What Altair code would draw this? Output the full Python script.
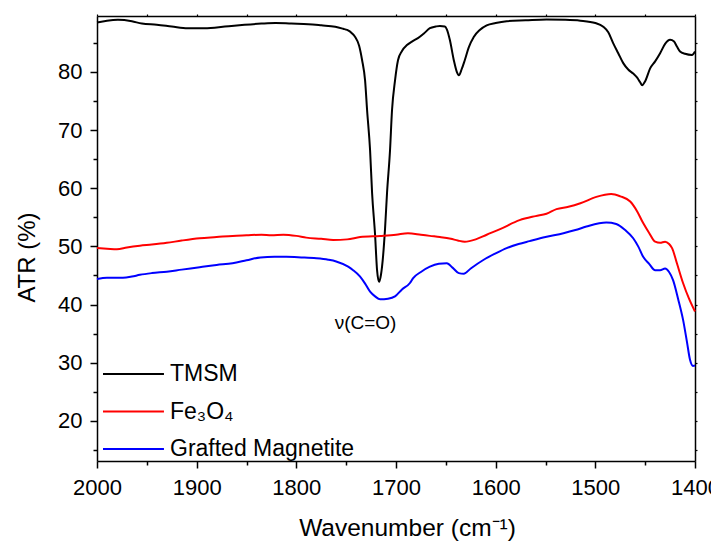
import altair as alt
import pandas as pd

series_names = ["TMSM", "Fe₃O₄", "Grafted Magnetite"]
series_colors = ["#000000", "#ff0000", "#0000ff"]

tmsm_x = [2000, 1990, 1979, 1965, 1955, 1940, 1925, 1909, 1895, 1882, 1865, 1852, 1835, 1821,
          1805, 1788, 1775, 1761, 1753, 1749, 1744, 1741, 1737, 1734, 1731, 1729, 1726, 1724,
          1721, 1719, 1717, 1715, 1714, 1711, 1709, 1706, 1704, 1701, 1698, 1694, 1689, 1684,
          1678, 1672, 1666, 1660, 1656, 1651, 1649, 1646, 1642, 1639, 1637, 1634, 1631, 1627,
          1622, 1616, 1609, 1600, 1589, 1570, 1549, 1530, 1515, 1500, 1492, 1487, 1482, 1477,
          1472, 1467, 1462, 1458, 1455, 1453, 1450, 1445, 1440, 1435, 1430, 1425, 1421, 1418,
          1415, 1410, 1403, 1400]
tmsm_y = [88.5, 88.8, 88.95, 88.7, 88.3, 88.1, 87.8, 87.5, 87.5, 87.6, 87.9, 88.1, 88.3, 88.4,
          88.3, 88.2, 88.0, 87.75, 87.4, 87.2, 86.6, 86.0, 84.5, 82.0, 78.5, 73.4, 66.5, 59.2,
          52.0, 45.9, 43.9, 45.2, 46.5, 53.0, 59.2, 66.5, 73.4, 78.5, 82.0, 83.6, 84.6, 85.2,
          85.8, 86.6, 87.5, 87.8, 87.9, 87.8, 87.3, 85.5, 82.0, 80.0, 79.4, 80.5, 82.0, 84.2,
          86.0, 87.2, 88.0, 88.4, 88.7, 88.85, 89.0, 88.95, 88.8, 88.4, 87.75, 86.8, 84.9, 83.2,
          81.5, 80.4, 79.7, 79.0, 78.2, 77.7, 78.4, 80.6, 81.8, 83.2, 84.8, 85.5, 85.2, 84.3,
          83.5, 83.1, 82.9, 83.5]

fe_x = [2000, 1990, 1980, 1970, 1957, 1945, 1930, 1915, 1897, 1880, 1864, 1850, 1835, 1825,
        1813, 1800, 1790, 1775, 1763, 1749, 1736, 1716, 1700, 1688, 1675, 1666, 1656, 1645,
        1638, 1631, 1620, 1609, 1595, 1576, 1560, 1549, 1539, 1527, 1515, 1499, 1484, 1475,
        1465, 1458, 1452, 1446, 1440, 1435, 1430, 1426, 1423, 1418, 1412, 1406, 1400]
fe_y = [49.7, 49.6, 49.5, 49.8, 50.1, 50.3, 50.6, 51.0, 51.4, 51.6, 51.8, 51.9, 52.0, 51.9,
        52.0, 51.8, 51.5, 51.3, 51.1, 51.2, 51.6, 51.8, 52.0, 52.25, 52.0, 51.8, 51.6, 51.3,
        51.0, 50.8, 51.2, 52.0, 53.0, 54.5, 55.2, 55.6, 56.4, 56.8, 57.4, 58.5, 59.0, 58.6,
        57.7, 56.0, 54.0, 52.3, 50.8, 50.6, 50.8, 50.4, 49.7, 47.0, 43.7, 41.0, 38.8]

gm_x = [2000, 1990, 1974, 1965, 1957, 1945, 1930, 1915, 1897, 1880, 1864, 1850, 1836, 1822,
        1810, 1795, 1780, 1768, 1760, 1748, 1743, 1736, 1731, 1726, 1721, 1716, 1708, 1701,
        1694, 1686, 1683, 1675, 1666, 1657, 1649, 1643, 1637, 1632, 1625, 1612, 1600, 1589,
        1577, 1566, 1550, 1532, 1520, 1509, 1489, 1479, 1470, 1462, 1457, 1452, 1446, 1440,
        1435, 1430, 1426, 1422, 1417, 1412, 1408, 1405, 1402, 1400]
gm_y = [44.4, 44.6, 44.6, 44.8, 45.1, 45.4, 45.65, 46.0, 46.4, 46.8, 47.1, 47.6, 48.1, 48.2,
        48.2, 48.1, 47.95, 47.7, 47.4, 46.5, 45.9, 44.8, 43.6, 42.2, 41.4, 40.9, 41.0, 41.4,
        42.6, 43.7, 44.5, 45.6, 46.5, 47.0, 47.1, 46.3, 45.4, 45.3, 46.2, 47.7, 48.8, 49.7,
        50.4, 50.9, 51.6, 52.25, 52.8, 53.4, 54.1, 53.85, 52.8, 51.4, 50.0, 48.2, 47.0, 45.9,
        45.9, 46.2, 45.6, 44.2, 41.0, 37.4, 33.5, 30.5, 29.45, 29.5]

annot_text = ["ν(C=O)"]
annot_x = [1730.6]
annot_y = [36.8]

x_ticks = list(range(1400, 2001, 50))
y_ticks = list(range(15, 90, 5))

rows = []
for name, xs, ys in zip(series_names, [tmsm_x, fe_x, gm_x], [tmsm_y, fe_y, gm_y]):
    for xv, yv in zip(xs, ys):
        rows.append({"series": name, "wavenumber": xv, "atr": yv})
df = pd.DataFrame(rows)
annot_df = pd.DataFrame({"label": annot_text, "wavenumber": annot_x, "atr": annot_y})

FONT = "Liberation Sans"
x_scale = alt.Scale(domain=[1400, 2000], reverse=True, nice=False, zero=False)
y_scale = alt.Scale(domain=[13.1, 89.6], nice=False, zero=False)

bottom_axis = alt.Axis(
    orient="bottom", values=x_ticks, format="d",
    labelExpr="datum.value % 100 === 0 ? datum.label : ''",
    tickSize={"condition": {"test": "datum.value % 100 === 0", "value": 7}, "value": 4},
    tickColor="black", tickWidth=1.5, domainColor="black", domainWidth=1.5,
    labelFont=FONT, labelFontSize=22, labelColor="black", labelPadding=9,
    labelFlush=False, labelOverlap=False,
    titleFont=FONT, titleFontSize=24.5, titleFontWeight="normal", titleColor="black",
    titlePadding=18, titleX=310, grid=False,
)
left_axis = alt.Axis(
    orient="left", values=y_ticks, format="d",
    labelExpr="datum.value % 10 === 0 ? datum.label : ''",
    tickSize={"condition": {"test": "datum.value % 10 === 0", "value": 7}, "value": 4},
    tickColor="black", tickWidth=1.5, domainColor="black", domainWidth=1.5,
    labelFont=FONT, labelFontSize=22, labelColor="black", labelPadding=8,
    labelFlush=False, labelOverlap=False,
    titleFont=FONT, titleFontSize=24, titleFontWeight="normal", titleColor="black",
    titlePadding=18, titleY=241, grid=False,
)
top_axis = alt.Axis(orient="top", values=x_ticks, labels=False, title=None, tickSize=2,
                    tickColor="black", tickWidth=1.2, domainColor="black", domainWidth=1.5, grid=False)
right_axis = alt.Axis(orient="right", values=y_ticks, labels=False, title=None, tickSize=2,
                      tickColor="black", tickWidth=1.2, domainColor="black", domainWidth=1.5, grid=False)

lines = alt.Chart(df).mark_line(strokeWidth=2, interpolate="monotone").encode(
    x=alt.X("wavenumber:Q", scale=x_scale, axis=bottom_axis, title="Wavenumber (cm⁻¹)"),
    y=alt.Y("atr:Q", scale=y_scale, axis=left_axis, title="ATR (%)"),
    color=alt.Color(
        "series:N",
        scale=alt.Scale(domain=series_names, range=series_colors),
        sort=series_names,
        legend=alt.Legend(
            title=None, orient="none", legendX=5, legendY=345,
            symbolType="M-1,0H4.08", symbolSize=576, symbolStrokeWidth=2,
            labelFont=FONT, labelFontSize=23, labelColor="black", labelOffset=42,
            labelLimit=0, rowPadding=12.5, padding=0,
        ),
    ),
)

frame = alt.Chart(df).mark_line(opacity=0).encode(
    x=alt.X("wavenumber:Q", scale=x_scale, axis=top_axis),
    y=alt.Y("atr:Q", scale=y_scale, axis=right_axis),
    detail="series:N",
)

annot = alt.Chart(annot_df).mark_text(font=FONT, fontSize=19, color="black", baseline="middle").encode(
    x=alt.X("wavenumber:Q", scale=x_scale, axis=None),
    y=alt.Y("atr:Q", scale=y_scale, axis=None),
    text="label:N",
)

chart = alt.layer(lines, frame, annot).resolve_axis(x="independent", y="independent").properties(
    width=598, height=445,
    autosize=alt.AutoSizeParams(type="none"),
    padding={"left": 89, "top": 8, "right": 16, "bottom": 90},
).configure_view(strokeWidth=0).configure(background="white")

chart.save("out.html", embed_options={"renderer": "svg", "actions": False})
